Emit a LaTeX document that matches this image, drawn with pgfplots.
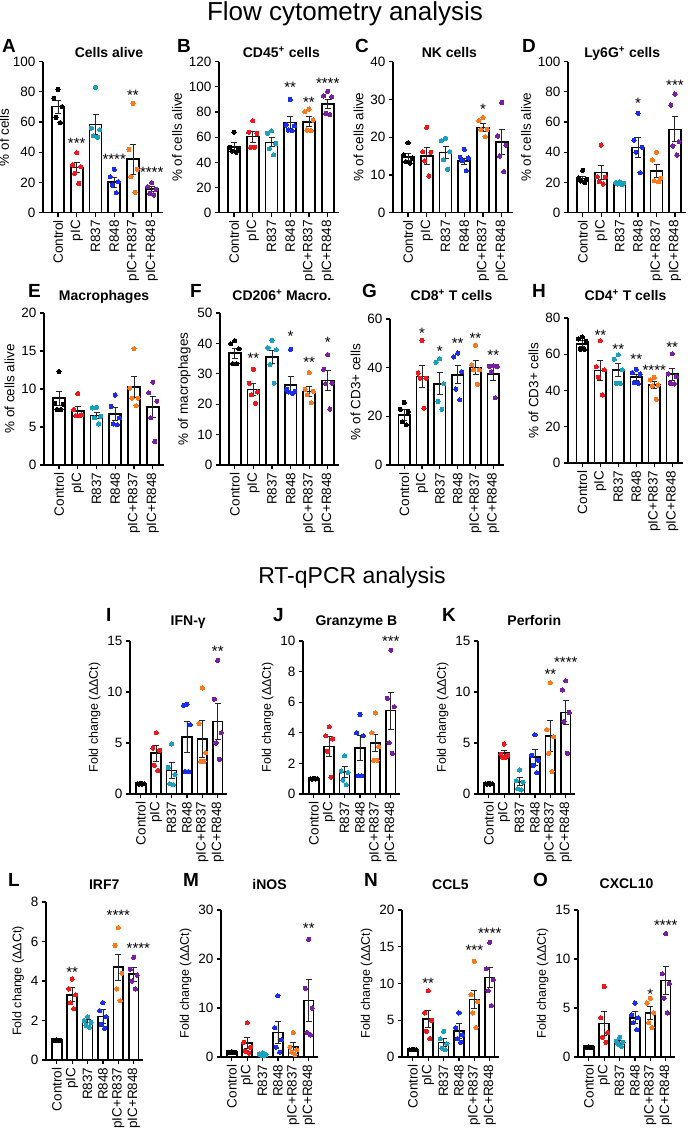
\documentclass[border=0pt]{standalone}
\usepackage{fontspec}
\setmainfont{Liberation Sans}
\usepackage{pgfplots}
\pgfplotsset{compat=1.18}

\definecolor{cK}{RGB}{0,0,0}
\definecolor{cR}{RGB}{235,25,30}
\definecolor{cT}{RGB}{25,160,190}
\definecolor{cB}{RGB}{25,45,235}
\definecolor{cO}{RGB}{250,120,30}
\definecolor{cP}{RGB}{120,30,160}

\newcommand{\lab}{\fontsize{13.5}{15}\selectfont}
\newcommand{\flab}{\fontsize{12.5}{14}\selectfont}
\newcommand{\ttl}{\fontsize{14}{16}\selectfont\bfseries}
\newcommand{\lett}{\fontsize{19}{21}\selectfont\bfseries}
\newcommand{\stf}{\fontsize{15}{15}\selectfont}

\pgfplotsset{
  panel/.style={
    scale only axis, anchor=south west, clip=false,
    axis x line*=bottom, axis y line*=left,
    axis line style={line width=1.6pt, black},
    xmin=-0.8, xmax=5.6, ymin=0,
    xtick={0,...,5},
    xticklabels={Control,pIC,R837,R848,pIC+R837,pIC+R848},
    x tick label style={rotate=90, anchor=east, font=\lab},
    y tick label style={font=\lab},
    tick align=outside, major tick length=4pt,
    tick style={line width=1.2pt, black},
    ylabel style={font=\lab},
    title style={font=\ttl, anchor=base, at={(0.5,1)}},
    /pgf/number format/assume math mode=true,
    enlargelimits=false,
  },
  qpanel/.style={panel, xmin=-0.7, xmax=5.6, width=97pt, height=153pt,
    ylabel={Fold change (ΔΔCt)}, ylabel style={font=\flab}},
  barsty/.style={ybar, bar width=0.64, bar shift=0pt, fill=white, draw=black,
    line width=1.6pt,
    error bars/.cd, y dir=both, y explicit,
    error bar style={line width=0.9pt, black!85},
    error mark options={rotate=90, mark size=3pt, line width=0.9pt, black!85}},
  dotsty/.style={only marks, mark=*, mark size=2.1pt, mark options={line width=0pt}},
}

\newcommand{\bars}[1]{\addplot[barsty] coordinates {#1};}
\newcommand{\dts}[7]{\addplot[dotsty,#2] table[row sep=\\, x expr={#1+\thisrow{o}}, y=y] {o y\\ 0 #3\\ -0.22 #4\\ 0.22 #5\\ -0.11 #6\\ 0.11 #7\\};}
\newcommand{\st}[3]{\node[font=\stf, anchor=base, yshift=-8.7pt] at (axis cs:#1,#2) {#3};}

\begin{document}
\begin{tikzpicture}[x=1pt,y=1pt]
\path[use as bounding box] (0,0) rectangle (689,1133);

% ---------------- Row 1 ----------------
% A
\begin{axis}[panel, at={(43pt,920.3pt)}, width=120pt, height=151pt, ymax=100, ytick={0,20,...,100},
  ylabel={\% of cells}, ylabel shift=-3pt, title={Cells alive}, title style={at={(0.55,1)}, yshift=-2.3pt}]
\bars{(0,70.2)+-(0,4.4) (1,29.8)+-(0,3.4) (2,58.5)+-(0,6.6) (3,20.3)+-(0,3.3) (4,35.5)+-(0,10) (5,15.5)+-(0,1.6)}
\dts{0}{cK}{81.7}{75.7}{70.2}{63.1}{59.6}
\dts{1}{cR}{39.7}{31.6}{30.5}{26}{19.4}
\dts{2}{cT}{83}{56}{55}{51}{50}
\dts{3}{cB}{28.7}{23.8}{20.5}{18.3}{13.2}
\dts{4}{cO}{72.4}{41.9}{28.7}{23.8}{13.5}
\dts{5}{cP}{19.9}{17.2}{15.5}{12.8}{11.7}
\st{1}{48}{***}\st{3}{38}{****}\st{4}{80}{**}\st{5}{29}{****}
\end{axis}
% B
\begin{axis}[panel, at={(219pt,920.3pt)}, width=120pt, height=151pt, ymax=120, ytick={0,20,...,120},
  ylabel={\% of cells alive}, title={CD45\textsuperscript{+} cells}, title style={at={(0.52,1)}, yshift=-2.3pt}]
\bars{(0,52.4)+-(0,3.2) (1,60.4)+-(0,4.5) (2,55.9)+-(0,3.6) (3,71.8)+-(0,4.6) (4,72.3)+-(0,3.8) (5,86.4)+-(0,3.5)}
\dts{0}{cK}{64}{52}{50}{49}{48}
\dts{1}{cR}{73}{64}{63}{52}{52}
\dts{2}{cT}{65}{63}{55}{51}{46}
\dts{3}{cB}{90}{69.7}{69}{65.7}{65}
\dts{4}{cO}{82.4}{80.3}{73.6}{65.7}{65.2}
\dts{5}{cP}{96.5}{92.7}{92}{79}{78}
\st{3}{102.8}{**}\st{4}{90.9}{**}\st{5}{105.4}{****}
\end{axis}
% C
\begin{axis}[panel, at={(393pt,920.3pt)}, width=120pt, height=151pt, ymax=40, ytick={0,10,...,40},
  ylabel={\% of cells alive}, title={NK cells}, title style={at={(0.47,1)}, yshift=-2.3pt}]
\bars{(0,14.8)+-(0,1.0) (1,15.0)+-(0,2.2) (2,15.9)+-(0,1.6) (3,13.7)+-(0,0.8) (4,22.6)+-(0,1.0) (5,18.8)+-(0,3.3)}
\dts{0}{cK}{18.5}{15.3}{14.5}{13.5}{13.1}
\dts{1}{cR}{22.6}{16.2}{16}{13.7}{9.7}
\dts{2}{cT}{19.7}{19.1}{16.2}{14}{11.5}
\dts{3}{cB}{16.8}{14.7}{14.5}{13.8}{11.1}
\dts{4}{cO}{25.2}{24.4}{22.1}{22}{20.1}
\dts{5}{cP}{29.2}{20.3}{17.9}{15}{10.9}
\st{4}{28.3}{*}
\end{axis}
% D
\begin{axis}[panel, at={(568pt,920.3pt)}, width=118pt, height=151pt, ymax=100, ytick={0,20,...,100},
  ylabel={\% of cells alive}, title={Ly6G\textsuperscript{+} cells}, title style={at={(0.46,1)}, yshift=-2.3pt}]
\bars{(0,22.7)+-(0,1.5) (1,26.5)+-(0,4.8) (2,19.4)+-(0,0.6) (3,43.3)+-(0,6.6) (4,27.8)+-(0,4.4) (5,55.2)+-(0,8.3)}
\dts{0}{cK}{28}{23}{22}{21}{20}
\dts{1}{cR}{44.8}{23.8}{23.5}{20.5}{19}
\dts{2}{cT}{20.5}{20}{19.4}{19}{18.5}
\dts{3}{cB}{65.8}{48.1}{43.3}{40}{26.5}
\dts{4}{cO}{40}{34.9}{22.7}{21.2}{20.5}
\dts{5}{cP}{78.6}{71.3}{47}{44.2}{38.2}
\st{3}{74.6}{*}\st{5}{86.8}{***}
\end{axis}

% ---------------- Row 2 ----------------
% E
\begin{axis}[panel, at={(44pt,668pt)}, width=120pt, height=152pt, ymax=20, ytick={0,5,...,20},
  ylabel={\% of cells alive}, title={Macrophages}, title style={at={(0.5,1)}, yshift=6pt}]
\bars{(0,8.8)+-(0,0.9) (1,7.1)+-(0,0.6) (2,6.5)+-(0,0.4) (3,6.7)+-(0,0.9) (4,10.3)+-(0,1.4) (5,7.6)+-(0,1.4)}
\dts{0}{cK}{12.3}{8.1}{8.0}{7.3}{7.3}
\dts{1}{cR}{9.4}{7.3}{6.6}{6.5}{6.5}
\dts{2}{cT}{7.6}{7.5}{6.4}{6.2}{5.4}
\dts{3}{cB}{9.2}{7.7}{6.2}{5.4}{5.3}
\dts{4}{cO}{15.3}{10.1}{8.8}{8.8}{7.8}
\dts{5}{cP}{10.9}{9.5}{8.4}{6.2}{3.1}
\end{axis}
% F
\begin{axis}[panel, at={(220pt,668pt)}, width=119pt, height=152pt, ymax=50, ytick={0,10,...,50},
  ylabel={\% of macrophages}, title={CD206\textsuperscript{+} Macro.}, title style={at={(0.52,1)}, yshift=6pt}]
\bars{(0,36.8)+-(0,1.6) (1,24.9)+-(0,1.9) (2,35.5)+-(0,2.2) (3,26.4)+-(0,2.8) (4,24.2)+-(0,1.7) (5,27.8)+-(0,3.2)}
\dts{0}{cK}{40.9}{39.9}{38.2}{33.3}{33.3}
\dts{1}{cR}{31.5}{26.9}{24}{23.1}{20.3}
\dts{2}{cT}{41}{38.5}{37.9}{33}{26.9}
\dts{3}{cB}{38.1}{24.9}{24.2}{24}{23.6}
\dts{4}{cO}{30.4}{24.9}{24.2}{23.1}{20.5}
\dts{5}{cP}{36.3}{31.5}{26.9}{26.7}{18.4}
\st{1}{36.3}{**}\st{3}{43.4}{*}\st{4}{34.8}{**}\st{5}{41.4}{*}
\end{axis}
% G
\begin{axis}[panel, at={(390pt,668pt)}, width=114pt, height=146pt, ymax=60, ytick={0,20,...,60},
  ylabel={\% of CD3+ cells}, title={CD8\textsuperscript{+} T cells}, title style={at={(0.54,1)}, yshift=12pt}]
\bars{(0,20.6)+-(0,2.3) (1,36.4)+-(0,4.4) (2,33.4)+-(0,4.5) (3,37.1)+-(0,3.7) (4,40.1)+-(0,2.8) (5,37.5)+-(0,2.7)}
\dts{0}{cK}{25.7}{22.9}{22}{17.8}{16.5}
\dts{1}{cR}{51.2}{37.8}{35.7}{35.7}{23.3}
\dts{2}{cT}{43.7}{42.2}{33.4}{26.1}{22.9}
\dts{3}{cB}{46}{44.4}{38.4}{31.2}{26.8}
\dts{4}{cO}{49.2}{41.2}{39.1}{39.1}{33.2}
\dts{5}{cP}{40.8}{40.5}{40.5}{38.4}{27.6}
\st{1}{55.6}{*}\st{2}{48.1}{*}\st{3}{51.5}{**}\st{4}{53.5}{**}\st{5}{46.7}{**}
\end{axis}
% H
\begin{axis}[panel, at={(568pt,670pt)}, width=115pt, height=145pt, ymax=80, ytick={0,20,...,80},
  ylabel={\% of CD3+ cells}, title={CD4\textsuperscript{+} T cells}, title style={at={(0.5,1)}, yshift=11pt}]
\bars{(0,65.8)+-(0,1.6) (1,51)+-(0,5.5) (2,51.4)+-(0,3.7) (3,47.3)+-(0,1.8) (4,43)+-(0,1.8) (5,49.1)+-(0,3.3)}
\dts{0}{cK}{69.5}{68.4}{67.1}{62.8}{62.8}
\dts{1}{cR}{67.4}{53.2}{51.4}{47.3}{37.5}
\dts{2}{cT}{59.7}{57.3}{51.4}{44}{44}
\dts{3}{cB}{51.7}{49.9}{49.1}{44.3}{44}
\dts{4}{cO}{47.3}{45.8}{43}{42.5}{35.1}
\dts{5}{cP}{60.2}{49.1}{47.7}{44}{43.6}
\st{1}{72.6}{**}\st{2}{64.7}{**}\st{3}{59.1}{**}\st{4}{53.2}{****}\st{5}{65.8}{**}
\end{axis}

% ---------------- Row 3 ----------------
% I
\begin{axis}[qpanel, at={(130pt,339pt)}, ymax=15, ytick={0,5,10,15},
  title={IFN-γ}, title style={at={(0.6,1)}, yshift=9pt}]
\bars{(0,1.0)+-(0,0.05) (1,4.0)+-(0,0.8) (2,2.3)+-(0,0.8) (3,5.6)+-(0,1.5) (4,5.4)+-(0,1.8) (5,7.1)+-(0,1.8)}
\dts{0}{cK}{1.05}{1.0}{1.0}{0.97}{0.97}
\dts{1}{cR}{6.0}{4.5}{4.3}{2.8}{2.3}
\dts{2}{cT}{4.9}{2.6}{1.9}{1.0}{0.9}
\dts{3}{cB}{8.8}{8.7}{6.8}{2.2}{2.2}
\dts{4}{cO}{10.4}{6.9}{4.05}{3.2}{3.2}
\dts{5}{cP}{13.1}{9.3}{6}{5}{3.4}
\st{5}{14.3}{**}
\end{axis}
% J
\begin{axis}[qpanel, at={(303pt,339pt)}, ymax=10, ytick={0,2,...,10},
  title={Granzyme B}, title style={at={(0.55,1)}, yshift=9pt}]
\bars{(0,1.0)+-(0,0.03) (1,3.1)+-(0,0.65) (2,1.45)+-(0,0.35) (3,3.0)+-(0,0.8) (4,3.35)+-(0,0.55) (5,5.45)+-(0,1.2)}
\dts{0}{cK}{1.03}{1.0}{1.0}{0.98}{0.98}
\dts{1}{cR}{4.4}{3.8}{3.6}{2.8}{1.1}
\dts{2}{cT}{2.5}{1.5}{1.4}{0.9}{0.6}
\dts{3}{cB}{5.2}{4.0}{3.8}{1.2}{1.2}
\dts{4}{cO}{5.3}{4.0}{3.1}{2.2}{2.2}
\dts{5}{cP}{9.4}{6.25}{5.7}{3.35}{2.65}
\st{5}{10.2}{***}
\end{axis}
% K
\begin{axis}[qpanel, at={(478pt,339pt)}, ymax=15, ytick={0,5,10,15},
  title={Perforin}, title style={at={(0.58,1)}, yshift=9pt}]
\bars{(0,1.0)+-(0,0.05) (1,4.0)+-(0,0.3) (2,1.2)+-(0,0.4) (3,3.6)+-(0,0.8) (4,5.7)+-(0,1.5) (5,8.0)+-(0,1.2)}
\dts{0}{cK}{1.05}{1.0}{1.0}{0.97}{0.97}
\dts{1}{cR}{4.9}{3.9}{3.8}{3.6}{3.6}
\dts{2}{cT}{2.36}{1.3}{1.15}{0.5}{0.4}
\dts{3}{cB}{5.8}{3.8}{3.3}{2.8}{2.1}
\dts{4}{cO}{10.9}{6.3}{5.6}{4.0}{2.2}
\dts{5}{cP}{11.1}{10.2}{8.0}{7.1}{4.0}
\st{4}{12.1}{**}\st{5}{13.3}{****}
\end{axis}

% ---------------- Row 4 ----------------
% L
\begin{axis}[qpanel, at={(46pt,73pt)}, height=158pt, ymax=8, ytick={0,2,...,8},
  title={IRF7}, title style={at={(0.6,1)}, yshift=7pt}]
\bars{(0,1.0)+-(0,0.03) (1,3.3)+-(0,0.35) (2,1.9)+-(0,0.15) (3,2.2)+-(0,0.35) (4,4.7)+-(0,0.65) (5,4.35)+-(0,0.35)}
\dts{0}{cK}{1.03}{1.0}{1.0}{0.98}{0.98}
\dts{1}{cR}{4.1}{3.6}{3.3}{2.9}{2.6}
\dts{2}{cT}{2.2}{2.0}{1.9}{1.75}{1.65}
\dts{3}{cB}{2.9}{2.5}{2.2}{1.8}{1.6}
\dts{4}{cO}{6.7}{5.8}{4.4}{3.6}{3.0}
\dts{5}{cP}{5.2}{4.6}{4.3}{4.0}{3.6}
\st{1}{4.6}{**}\st{4}{7.5}{****}\st{5.3}{5.85}{****}
\end{axis}
% M
\begin{axis}[qpanel, at={(221pt,76pt)}, height=147pt, ymax=30, ytick={0,10,20,30},
  title={iNOS}, title style={at={(0.5,1)}, yshift=15pt}]
\bars{(0,1.0)+-(0,0.1) (1,2.8)+-(0,1.1) (2,0.5)+-(0,0.1) (3,5.0)+-(0,2.3) (4,2.0)+-(0,1.0) (5,11.5)+-(0,4.3)}
\dts{0}{cK}{1.1}{1.0}{1.0}{0.9}{0.9}
\dts{1}{cR}{7.0}{3.0}{2.0}{1.2}{0.8}
\dts{2}{cT}{0.8}{0.6}{0.5}{0.4}{0.3}
\dts{3}{cB}{12.5}{6.0}{3.5}{2.0}{1.0}
\dts{4}{cO}{5.0}{2.0}{1.5}{1.0}{0.5}
\dts{5}{cP}{24}{14}{10}{5}{4.5}
\st{5}{26.9}{**}
\end{axis}
% N
\begin{axis}[qpanel, at={(402pt,76pt)}, height=147pt, ymax=20, ytick={0,5,...,20},
  title={CCL5}, title style={at={(0.5,1)}, yshift=15pt}]
\bars{(0,1.0)+-(0,0.05) (1,5.2)+-(0,1.2) (2,2.0)+-(0,0.5) (3,3.5)+-(0,1.0) (4,7.8)+-(0,1.2) (5,10.8)+-(0,1.4)}
\dts{0}{cK}{1.05}{1.0}{1.0}{0.97}{0.97}
\dts{1}{cR}{9.0}{6.0}{5.0}{3.5}{2.5}
\dts{2}{cT}{3.5}{2.5}{1.8}{1.2}{1.0}
\dts{3}{cB}{6.0}{4.0}{3.0}{2.5}{2.0}
\dts{4}{cO}{13}{8.5}{7.5}{6.0}{4.0}
\dts{5}{cP}{15.6}{12}{10.5}{9}{7}
\st{1}{10.5}{**}\st{4}{15.0}{***}\st{5}{17.3}{****}
\end{axis}
% O
\begin{axis}[qpanel, at={(578pt,76pt)}, height=147pt, ymax=15, ytick={0,5,10,15},
  title={CXCL10}, title style={at={(0.5,1)}, yshift=15pt}]
\bars{(0,1.0)+-(0,0.05) (1,3.4)+-(0,1.2) (2,1.5)+-(0,0.15) (3,4.0)+-(0,0.6) (4,4.5)+-(0,0.7) (5,7.8)+-(0,1.4)}
\dts{0}{cK}{1.05}{1.0}{1.0}{0.97}{0.97}
\dts{1}{cR}{7.2}{4.0}{2.5}{2.0}{1.5}
\dts{2}{cT}{2.0}{1.6}{1.5}{1.3}{1.1}
\dts{3}{cB}{5.5}{4.3}{4.0}{3.5}{2.8}
\dts{4}{cO}{6.0}{5.5}{4.5}{3.5}{3.0}
\dts{5}{cP}{12.6}{8.5}{7.5}{6.0}{4.5}
\st{4}{6.8}{*}\st{5}{13.8}{****}
\end{axis}

% ---------------- Letters and section titles ----------------
\node[anchor=base, font=\fontsize{26}{28}\selectfont] at (345,1112) {Flow cytometry analysis};
\node[anchor=base, font=\fontsize{23}{25}\selectfont] at (352,549) {RT-qPCR analysis};
\foreach \l/\x/\y in {A/2/53,B/177/53,C/355/53,D/522/53,E/28/298,F/190/298,G/362/298,H/532/298,
  I/106/622,J/273/622,K/442/622,L/8/887,M/183/887,N/364/887,O/533/887}{
  \node[anchor=base west, inner sep=0pt, font=\lett] at (\x,1133-\y) {\l};
}
\end{tikzpicture}
\end{document}
